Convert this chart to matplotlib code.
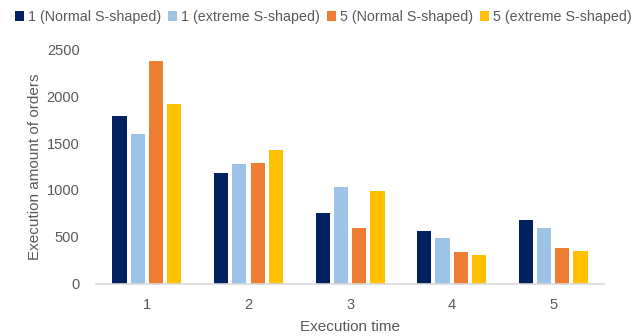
import numpy as np
import matplotlib.pyplot as plt

plt.rcParams['font.family'] = ['Liberation Sans', 'DejaVu Sans']

times = ['1', '2', '3', '4', '5']
normal_1 = [1790, 1180, 760, 560, 680]
extreme_1 = [1600, 1280, 1030, 490, 590]
normal_5 = [2370, 1290, 600, 340, 380]
extreme_5 = [1910, 1430, 990, 310, 350]

series = [
    ('1 (Normal S-shaped)', normal_1, '#002060'),
    ('1 (extreme S-shaped)', extreme_1, '#9DC3E6'),
    ('5 (Normal S-shaped)', normal_5, '#ED7D31'),
    ('5 (extreme S-shaped)', extreme_5, '#FFC000'),
]

grey = '#595959'
fig = plt.figure(figsize=(6.37, 3.36), dpi=100)
ax = fig.add_axes([0.151, 0.155, 0.797, 0.699])

x = np.arange(1, len(times) + 1)
pitch = 0.18
width = 0.14
for i, (name, vals, color) in enumerate(series):
    ax.bar(x + (i - 1.5) * pitch, vals, width, color=color, label=name)

ax.set_xlim(0.5, 5.5)
ax.set_ylim(0, 2500)
ax.set_yticks(range(0, 2501, 500))
ax.set_xticks(x)
ax.set_xticklabels(times)
ax.tick_params(length=0, colors=grey, labelsize=10.5)
ax.tick_params(axis='x', pad=10)
ax.tick_params(axis='y', pad=12)
for s in ['top', 'right', 'left']:
    ax.spines[s].set_visible(False)
ax.spines['bottom'].set_color('#D9D9D9')
ax.spines['bottom'].set_linewidth(1.2)

ax.set_xlabel('Execution time', color=grey, fontsize=11, labelpad=6)
ax.set_ylabel('Execution amount of orders', color=grey, fontsize=11, labelpad=3)

leg = fig.legend(loc='upper center', bbox_to_anchor=(0.508, 1.0), ncol=4, frameon=False,
                 fontsize=10.3, handlelength=0.6, handleheight=0.6, handletextpad=0.3,
                 columnspacing=0.5, borderaxespad=0.3)
for t in leg.get_texts():
    t.set_color(grey)

fig.savefig('out.png', dpi=100)
